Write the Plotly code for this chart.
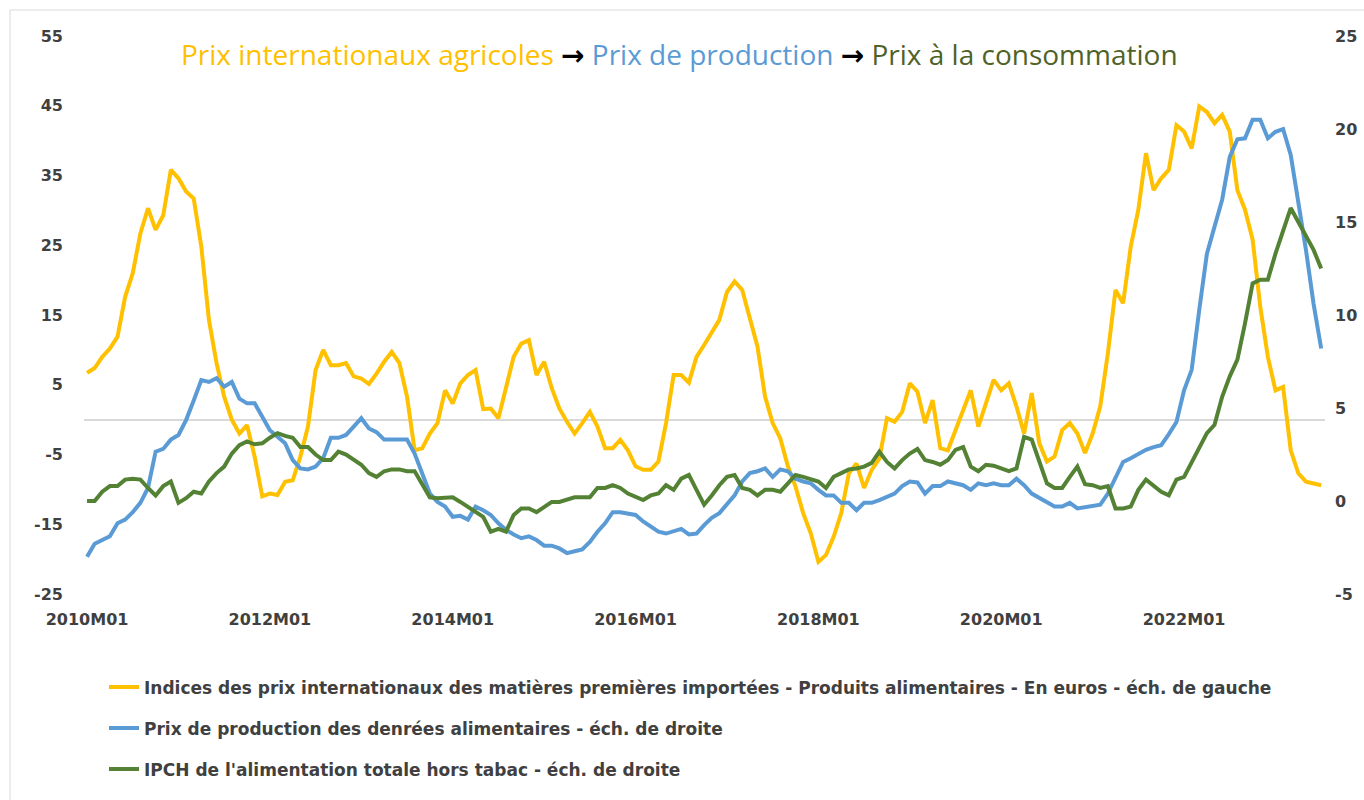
import plotly.graph_objects as go

# Months 2010M01 .. 2023M07
months = [f"{2010 + i // 12}M{(i % 12) + 1:02d}" for i in range(163)]

# Indices des prix internationaux des matières premières importées (left axis)
intl = [
    6.7, 7.4, 9.0, 10.2, 11.9, 17.6, 21.0, 26.7, 30.3, 27.2, 29.3, 35.8,
    34.6, 32.7, 31.7, 24.8, 14.3, 8.1, 3.3, 0.0, -2.0, -0.8, -5.3, -11.0,
    -10.6, -10.8, -8.9, -8.7, -5.3, -1.0, 7.1, 10.0, 7.8, 7.8, 8.1, 6.2,
    5.9, 5.1, 6.6, 8.3, 9.7, 8.1, 3.3, -4.4, -4.1, -2.0, -0.5, 4.2,
    2.3, 5.2, 6.4, 7.1, 1.5, 1.6, 0.2, 4.7, 9.0, 10.9, 11.4, 6.4,
    8.3, 4.5, 1.6, -0.3, -2.0, -0.5, 1.1, -1.0, -4.1, -4.1, -2.9, -4.4,
    -6.7, -7.2, -7.2, -6.0, -0.5, 6.4, 6.4, 5.3, 9.0, 10.7, 12.4, 14.3,
    18.3, 19.8, 18.6, 14.8, 10.5, 3.3, -0.5, -2.7, -6.7, -9.6, -13.4, -16.3,
    -20.4, -19.4, -16.8, -13.4, -7.7, -6.3, -9.8, -7.2, -5.6, 0.2, -0.3, 1.1,
    5.2, 4.0, -0.5, 2.8, -4.1, -4.4, -1.5, 1.4, 4.2, -1.0, 2.3, 5.7,
    4.2, 5.2, 1.9, -2.0, 3.8, -3.4, -6.0, -5.3, -1.5, -0.5, -2.0, -4.8,
    -2.0, 1.9, 9.5, 18.6, 16.7, 24.8, 30.1, 38.2, 32.9, 34.6, 35.8, 42.2,
    41.3, 38.9, 44.9, 44.1, 42.5, 43.7, 41.3, 32.9, 30.1, 25.8, 16.2, 9.0,
    4.2, 4.7, -4.4, -7.7, -8.9, -9.1, -9.4,
]

# Prix de production des denrées alimentaires (right axis)
prod = [
    -3.0, -2.3, -2.1, -1.9, -1.2, -1.0, -0.6, -0.1, 0.7, 2.65, 2.8, 3.3,
    3.55, 4.35, 5.4, 6.5, 6.4, 6.6, 6.15, 6.4, 5.5, 5.25, 5.25, 4.5,
    3.8, 3.45, 3.1, 2.2, 1.75, 1.7, 1.85, 2.3, 3.4, 3.4, 3.55, 4.0,
    4.45, 3.9, 3.7, 3.3, 3.3, 3.3, 3.3, 2.55, 1.5, 0.4, -0.05, -0.3,
    -0.85, -0.8, -1.0, -0.3, -0.5, -0.75, -1.2, -1.55, -1.8, -2.0, -1.9, -2.1,
    -2.4, -2.4, -2.55, -2.8, -2.7, -2.6, -2.2, -1.65, -1.2, -0.6, -0.6, -0.65,
    -0.75, -1.1, -1.4, -1.65, -1.75, -1.65, -1.5, -1.8, -1.75, -1.3, -0.9, -0.65,
    -0.2, 0.3, 1.05, 1.5, 1.6, 1.75, 1.3, 1.7, 1.6, 1.2, 1.05, 0.95,
    0.6, 0.3, 0.3, -0.1, -0.1, -0.5, -0.1, -0.1, 0.05, 0.2, 0.4, 0.8,
    1.05, 1.0, 0.4, 0.8, 0.8, 1.05, 0.95, 0.85, 0.6, 0.95, 0.85, 0.95,
    0.85, 0.85, 1.2, 0.85, 0.4, 0.15, -0.05, -0.3, -0.3, -0.1, -0.4, -0.35,
    -0.3, -0.2, 0.4, 1.3, 2.1, 2.3, 2.55, 2.75, 2.9, 3.0, 3.6, 4.25,
    5.95, 7.05, 10.3, 13.3, 14.75, 16.2, 18.5, 19.45, 19.5, 20.5, 20.5, 19.5,
    19.85, 20.0, 18.6, 16.2, 13.5, 10.6, 8.2,
]

# IPCH de l'alimentation totale hors tabac (right axis)
ipch = [
    0.0, 0.0, 0.5, 0.8, 0.8, 1.15, 1.2, 1.15, 0.7, 0.3, 0.8, 1.05,
    -0.1, 0.15, 0.5, 0.4, 1.05, 1.5, 1.85, 2.55, 3.0, 3.2, 3.05, 3.1,
    3.4, 3.65, 3.5, 3.4, 2.9, 2.9, 2.5, 2.2, 2.2, 2.65, 2.5, 2.2,
    1.95, 1.5, 1.3, 1.6, 1.7, 1.7, 1.6, 1.6, 0.85, 0.2, 0.15, 0.2,
    0.2, -0.05, -0.3, -0.6, -0.85, -1.65, -1.5, -1.65, -0.75, -0.4, -0.4, -0.6,
    -0.3, -0.05, -0.05, 0.05, 0.2, 0.2, 0.2, 0.7, 0.7, 0.85, 0.7, 0.4,
    0.2, 0.05, 0.3, 0.4, 0.85, 0.6, 1.2, 1.4, 0.6, -0.2, 0.3, 0.85,
    1.3, 1.4, 0.7, 0.6, 0.3, 0.6, 0.6, 0.5, 0.95, 1.4, 1.3, 1.15,
    1.05, 0.7, 1.3, 1.5, 1.7, 1.75, 1.85, 2.05, 2.65, 2.1, 1.75, 2.2,
    2.55, 2.8, 2.2, 2.1, 1.95, 2.2, 2.75, 2.9, 1.85, 1.6, 1.95, 1.9,
    1.75, 1.6, 1.75, 3.45, 3.3, 2.2, 0.95, 0.7, 0.7, 1.3, 1.85, 0.9,
    0.85, 0.7, 0.8, -0.4, -0.4, -0.3, 0.6, 1.15, 0.85, 0.5, 0.3, 1.15,
    1.3, 2.05, 2.8, 3.65, 4.1, 5.6, 6.7, 7.6, 9.55, 11.7, 11.9, 11.9,
    13.3, 14.55, 15.75, 15.0, 14.3, 13.5, 12.5,
]

tick_labels = [months[i] for i in range(0, 163, 24)]
left_ticks = [-25, -15, -5, 5, 15, 25, 35, 45, 55]
right_ticks = [-5, 0, 5, 10, 15, 20, 25]

YELLOW = "#FFC000"
BLUE = "#5B9BD5"
GREEN = "#548235"
TXT = "#404040"

names = [
    "Indices des prix internationaux des matières premières importées - Produits alimentaires - En euros - éch. de gauche",
    "Prix de production des denrées alimentaires - éch. de droite",
    "IPCH de l'alimentation totale hors tabac - éch. de droite",
]

fig = go.Figure()
fig.add_trace(go.Scatter(x=months, y=intl, name=names[0], mode="lines",
                         line=dict(color=YELLOW, width=4), legendgroup="a"))
fig.add_trace(go.Scatter(x=months, y=prod, name=names[1], mode="lines",
                         line=dict(color=BLUE, width=4), yaxis="y2", legendgroup="b"))
fig.add_trace(go.Scatter(x=months, y=ipch, name=names[2], mode="lines",
                         line=dict(color=GREEN, width=4), yaxis="y2", legendgroup="c"))

tickfont = dict(family="DejaVu Sans", size=16, color=TXT, weight="bold")

fig.update_layout(
    width=1364, height=800,
    margin=dict(l=84, r=39, t=36, b=206),
    paper_bgcolor="white", plot_bgcolor="white",
    xaxis=dict(
        type="category", range=[-0.4, 162.5],
        tickmode="array", tickvals=tick_labels, ticktext=tick_labels,
        showgrid=False, showline=False, zeroline=False, ticks="",
        tickfont=tickfont, ticklabelstandoff=14, automargin=False,
    ),
    yaxis=dict(
        range=[-25, 55], tickmode="array", tickvals=left_ticks,
        ticktext=[str(v) for v in left_ticks],
        showgrid=False, zeroline=True, zerolinecolor="#d9d9d9", zerolinewidth=1.5,
        showline=False, ticks="", tickfont=tickfont, ticklabelstandoff=20,
        automargin=False,
    ),
    yaxis2=dict(
        range=[-5, 25], tickmode="array", tickvals=right_ticks,
        ticktext=[str(v) for v in right_ticks],
        overlaying="y", side="right",
        showgrid=False, zeroline=False, showline=False, ticks="",
        tickfont=tickfont, ticklabelstandoff=9, automargin=False,
    ),
    legend=dict(
        x=(104 - 84) / 1241, y=-0.135, xanchor="left", yanchor="top",
        orientation="v", tracegroupgap=16,
        font=dict(family="DejaVu Sans", size=17, color=TXT, weight="bold"),
        bgcolor="rgba(0,0,0,0)",
    ),
    showlegend=True,
)

arrow = '<span style="color:#000000;font-family:DejaVu Sans"><b>→</b></span>'
title_html = (
    f'<span style="color:{YELLOW}">Prix internationaux agricoles</span> '
    f'{arrow} '
    f'<span style="color:{BLUE}">Prix de production</span> '
    f'{arrow} '
    f'<span style="color:#4F6228">Prix à la consommation</span>'
)
fig.add_annotation(
    text=title_html, xref="paper", yref="paper",
    x=(679 - 84) / 1241, y=(594 - 54) / 558, xanchor="center", yanchor="middle",
    showarrow=False, font=dict(family="Open Sans", size=28),
)

# outer chart border
fig.add_shape(type="rect", xref="paper", yref="paper",
              x0=(10 - 84) / 1241, x1=1.2, y0=-0.5, y1=(594 - 10) / 558,
              line=dict(color="#d9d9d9", width=1), fillcolor="rgba(0,0,0,0)",
              layer="below")

fig.write_html("out.html", config={"displayModeBar": False},
               post_script="document.body.style.margin='0px';")
